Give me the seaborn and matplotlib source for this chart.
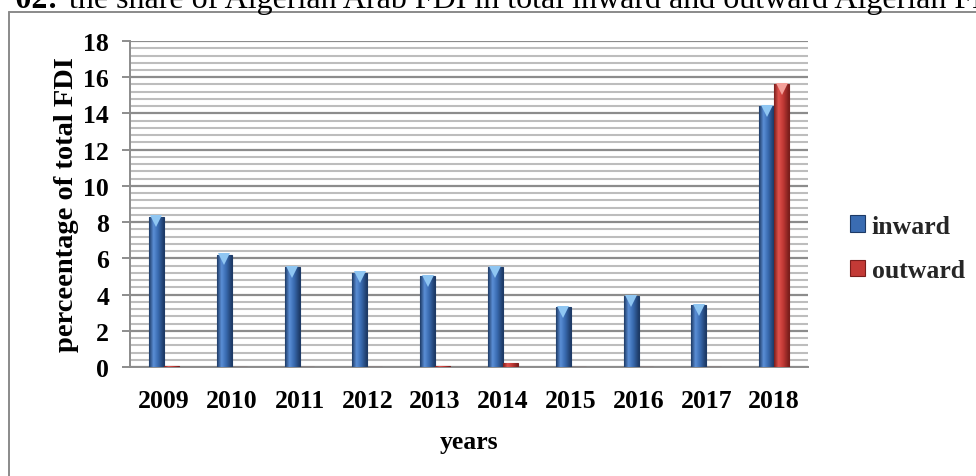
import numpy as np
import pandas as pd
import seaborn as sns
import matplotlib.pyplot as plt
from matplotlib.patches import Patch
from matplotlib.lines import Line2D
from matplotlib.colors import LinearSegmentedColormap
from matplotlib import transforms

# Share of Algerian–Arab FDI in total Algerian FDI (%)
years = ['2009', '2010', '2011', '2012', '2013', '2014', '2015', '2016', '2017', '2018']
inward = [8.3, 6.2, 5.5, 5.2, 5.0, 5.5, 3.3, 3.9, 3.4, 14.4]
outward = [0.05, 0.0, 0.0, 0.0, 0.05, 0.22, 0.0, 0.0, 0.0, 15.6]
series = ['inward', 'outward']

df = pd.DataFrame({
    'year': years * 2,
    'value': inward + outward,
    'series': ['inward'] * len(years) + ['outward'] * len(years),
})

sns.set_theme(style='white')
plt.rcParams['font.family'] = ['Liberation Serif', 'DejaVu Serif']

base = {'inward': '#3a6cb2', 'outward': '#c33a36'}
dark = {'inward': '#1d3a66', 'outward': '#7a1e1c'}
light = {'inward': '#5b8fd6', 'outward': '#e0524c'}
tip = {'inward': '#8fc6f2', 'outward': '#f4a09a'}

fig = plt.figure(figsize=(9.76, 4.77), dpi=100)
ax = fig.add_axes([0.1332, 0.2285, 0.6947, 0.6834])

sns.barplot(data=df, x='year', y='value', hue='series', hue_order=series,
            palette=base, width=0.44, saturation=1, legend=False, ax=ax, zorder=3)

# cylinder-like shading on every bar plus a bevelled tip
tip_tr = transforms.offset_copy(ax.transData, fig=fig, y=-3.2, units='points')
n = len(years)
for i, patch in enumerate(ax.patches):
    if i >= 2 * n:
        continue
    s = series[i // n]
    x0, w, h = patch.get_x(), patch.get_width(), patch.get_height()
    patch.set_edgecolor(dark[s])
    patch.set_linewidth(0.8)
    if h <= 0:
        continue
    cmap = LinearSegmentedColormap.from_list(
        s, [(0, dark[s]), (0.3, light[s]), (0.6, base[s]), (1, dark[s])])
    grad = np.linspace(0, 1, 64).reshape(1, -1)
    im = ax.imshow(grad, extent=[x0, x0 + w, 0, h], aspect='auto', cmap=cmap,
                   zorder=3.5, interpolation='bilinear')
    im.set_clip_path(patch)
    if h > 0.5:
        ax.plot([x0 + w / 2], [h], marker='v', markersize=8.5, color=tip[s],
                markeredgewidth=0, transform=tip_tr, zorder=4)

ax.set_xlim(-0.5, n - 0.5)
ax.set_ylim(0, 18)
ax.set_yticks(np.arange(0, 18.01, 2))
ax.set_yticks(np.arange(0, 18.01, 0.4), minor=True)
ax.grid(axis='y', which='major', color='#8c8c8c', lw=1.6, zorder=0)
ax.grid(axis='y', which='minor', color='#bdbdbd', lw=1.5, zorder=0)
ax.set_axisbelow(True)

for side in ['top', 'right']:
    ax.spines[side].set_visible(False)
for side in ['left', 'bottom']:
    ax.spines[side].set_color('#8c8c8c')
    ax.spines[side].set_linewidth(1.4)

ax.tick_params(axis='y', which='major', length=6, width=1.4, color='#8c8c8c',
               direction='out', pad=9, left=True)
ax.tick_params(axis='y', which='minor', length=0)
ax.tick_params(axis='x', length=0, pad=16)
for lab in ax.get_xticklabels() + ax.get_yticklabels():
    lab.set_fontsize(18.5)
    lab.set_fontweight('bold')
    lab.set_color('black')

ax.set_xlabel('years', fontsize=18.5, fontweight='bold', color='black', labelpad=13)
ax.set_ylabel('perceentage of total FDI', fontsize=20.5, fontweight='bold',
              color='black', labelpad=3)

handles = [Patch(facecolor=base[s], edgecolor=dark[s], linewidth=0.8) for s in series]
leg = fig.legend(handles, series, loc='center left', bbox_to_anchor=(850 / 976, 0.477),
                 frameon=False, borderpad=0, borderaxespad=0,
                 handlelength=0.6, handleheight=0.6, handletextpad=0.25,
                 labelspacing=0.85, prop={'family': 'Liberation Serif', 'weight': 'bold',
                                          'size': 18.5})

# caption line above the chart frame
fig.text(58 / 976, 1 - 8 / 477, 'Figure N° 02:', ha='right', va='baseline',
         fontsize=23, fontweight='bold', color='black')
fig.text(69 / 976, 1 - 8 / 477,
         'the share of Algerian Arab FDI in total inward and outward Algerian FDI',
         ha='left', va='baseline', fontsize=23, color='black')

# chart frame
fig.add_artist(Line2D([9 / 976, 9 / 976], [0, 1 - 13 / 477], transform=fig.transFigure,
                      color='#8a8a8a', lw=1.4))
fig.add_artist(Line2D([9 / 976, 1], [1 - 13 / 477, 1 - 13 / 477], transform=fig.transFigure,
                      color='#8a8a8a', lw=1.4))

fig.savefig('out.png', dpi=100, facecolor='white')
